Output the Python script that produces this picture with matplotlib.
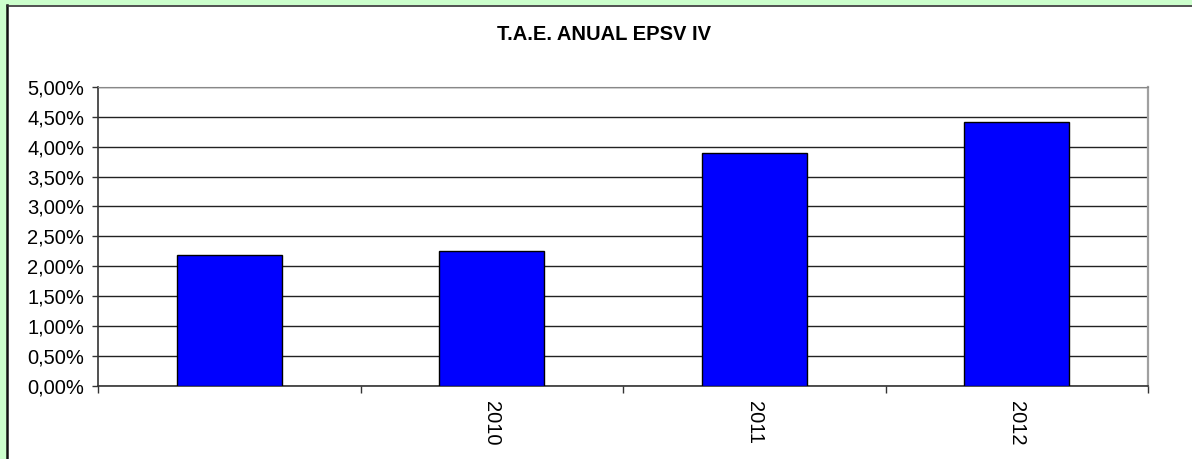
#!/usr/bin/env python3

import matplotlib
matplotlib.use('Agg')
import matplotlib.pyplot as plt
from matplotlib.lines import Line2D
from matplotlib.patches import Rectangle
import numpy as np

title = 'T.A.E. ANUAL EPSV IV'
years = ['', '2010', '2011', '2012']
tae = [2.18, 2.25, 3.89, 4.41]  # %
yticks = np.arange(0, 5.01, 0.5)


def main():
    plt.rcParams['font.family'] = ['Liberation Sans', 'DejaVu Sans']

    fig = plt.figure(figsize=(11.92, 4.59), dpi=100, facecolor='#ccffcc')
    W, H = 1192, 459

    # white chart area with dark border on left/top (picture is cropped right/bottom)
    fig.patches.append(Rectangle((7 / W, 0), 1, 1 - 5 / H, transform=fig.transFigure,
                                 facecolor='white', edgecolor='none', zorder=-10))
    fig.lines.append(Line2D([6.5 / W, 6.5 / W], [0, 1 - 5 / H], transform=fig.transFigure,
                            color='#111111', lw=1.8, zorder=-5))
    fig.lines.append(Line2D([6.5 / W, 1], [1 - 5.5 / H, 1 - 5.5 / H], transform=fig.transFigure,
                            color='#333333', lw=1.2, zorder=-5))

    ax = fig.add_axes([98 / W, 1 - 385.5 / H, 1050 / W, 298.5 / H])
    ax.set_facecolor('white')

    x = np.arange(len(years))
    ax.bar(x, tae, width=0.4, color='#0000ff', edgecolor='black', linewidth=1, zorder=3)

    ax.set_xlim(-0.5, len(years) - 0.5)
    ax.set_ylim(0, 5)
    ax.set_yticks(yticks)
    ax.set_yticklabels([('%.2f%%' % v).replace('.', ',') for v in yticks], fontsize=14.5)
    ax.yaxis.grid(True, color='#222222', lw=1)
    ax.set_axisbelow(True)

    ax.set_xticks(x)
    ax.set_xticklabels(years, rotation=-90, fontsize=14.5, va='top', ha='center')
    ax.tick_params(axis='x', which='major', length=0, pad=11)
    ax.set_xticks(np.arange(len(years) + 1) - 0.5, minor=True)
    ax.tick_params(axis='x', which='minor', length=5, width=1, color='#333333', direction='out')
    ax.tick_params(axis='y', length=4, width=1, color='#333333', direction='out', pad=6)

    for s in ('left', 'bottom'):
        ax.spines[s].set_color('#333333')
        ax.spines[s].set_linewidth(1.2)
    ax.spines['top'].set_color('#888888')
    ax.spines['right'].set_color('#a0a0a0')
    ax.spines['right'].set_linewidth(1.6)

    fig.text(604 / W, 1 - 34 / H, title, ha='center', va='center', fontsize=14.5, fontweight='bold')

    fig.savefig('out.png', dpi=100, facecolor=fig.get_facecolor())


if __name__ == '__main__':
    main()
